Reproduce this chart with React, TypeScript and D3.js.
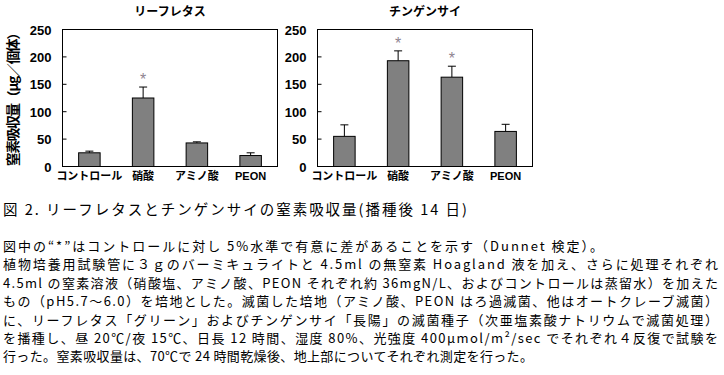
import React from 'react';
import * as d3 from 'd3';

// chart values
const categories = ['コントロール', '硝酸', 'アミノ酸', 'PEON'];
const lettuceMean = [25, 125, 43, 20];
const lettuceErr = [3, 20, 2, 5];
const lettuceSig = [false, true, false, false];
const bokchoyMean = [55, 193, 163, 64];
const bokchoyErr = [21, 18, 20, 13];
const bokchoySig = [false, true, true, false];
const yTicks = [0, 50, 100, 150, 200, 250];

const captionTitle = '図 2. リーフレタスとチンゲンサイの窒素吸収量(播種後 14 日)';
const noteLines = [
  '図中の“*”はコントロールに対し 5%水準で有意に差があることを示す（Dunnet 検定）。',
  '植物培養用試験管に３ｇのバーミキュライトと 4.5ml の無窒素 Hoagland 液を加え、さらに処理それぞれ',
  '4.5ml の窒素溶液（硝酸塩、アミノ酸、PEON それぞれ約 36mgN/L、およびコントロールは蒸留水）を加えた',
  'もの（pH5.7～6.0）を培地とした。滅菌した培地（アミノ酸、PEON はろ過滅菌、他はオートクレーブ滅菌）',
  'に、リーフレタス「グリーン」およびチンゲンサイ「長陽」の滅菌種子（次亜塩素酸ナトリウムで滅菌処理）',
  'を播種し、昼 20℃/夜 15℃、日長 12 時間、湿度 80%、光強度 400μmol/m²/sec でそれぞれ４反復で試験を',
  '行った。窒素吸収量は、70℃で 24 時間乾燥後、地上部についてそれぞれ測定を行った。',
];
const noteWidths = [600, 715, 715, 715, 715, 715, 530];

const SANS = '"Liberation Sans", Arial, "Noto Sans CJK JP", sans-serif';
const CJK = '"Noto Sans CJK JP", "Liberation Sans", sans-serif';

interface PanelProps {
  title: string;
  left: number;
  right: number;
  top: number;
  bottom: number;
  means: number[];
  errs: number[];
  sig: boolean[];
}

const Panel: React.FC<PanelProps> = ({ title, left, right, top, bottom, means, errs, sig }) => {
  const x = d3.scaleBand<string>().domain(categories).range([left, right]).paddingInner(0.6).paddingOuter(0.3);
  const y = d3.scaleLinear().domain([0, 250]).range([bottom, top]);
  const bw = x.bandwidth();

  return (
    <g>
      <text x={(left + right) / 2} y={16} textAnchor="middle" fontFamily={CJK} fontWeight="bold" fontSize={12}>
        {title}
      </text>
      {categories.map((c, i) => {
        const cx = (x(c) as number) + bw / 2;
        const errTop = y(means[i] + errs[i]);
        return (
          <g key={c}>
            <line x1={cx} x2={cx} y1={y(means[i])} y2={errTop} stroke="#000" strokeWidth={1} />
            <line x1={cx - 4} x2={cx + 4} y1={errTop} y2={errTop} stroke="#000" strokeWidth={1} />
            <rect x={x(c)} y={y(means[i])} width={bw} height={bottom - y(means[i])} fill="#808080" stroke="#000" strokeWidth={1} />
            {sig[i] && (
              <text x={cx} y={errTop - 2} textAnchor="middle" fontFamily={SANS} fontSize={16} fill="#8f8490">
                *
              </text>
            )}
            <text x={cx} y={180} textAnchor="middle" fontFamily={SANS} fontWeight="bold" fontSize={11}>
              {c}
            </text>
          </g>
        );
      })}
      <rect x={left} y={top} width={right - left} height={bottom - top} fill="none" stroke="#000" strokeWidth={1} />
      {yTicks.map(t => (
        <g key={t}>
          <line x1={left} x2={left + 4} y1={y(t)} y2={y(t)} stroke="#000" strokeWidth={1} />
          <text x={left - 11} y={y(t) + 5} textAnchor="end" fontFamily={SANS} fontWeight="bold" fontSize={13}>
            {t}
          </text>
        </g>
      ))}
    </g>
  );
};

const App: React.FC = () => {
  return (
    <svg width={724} height={375} viewBox="0 0 724 375" style={{ position: 'absolute', left: 0, top: 0, background: '#fff' }}>
      <rect width={724} height={375} fill="#fff" />
      <text
        transform="translate(18,96) rotate(-90)"
        textAnchor="middle"
        fontFamily={CJK}
        fontWeight="bold"
        fontSize={13.5}
        textLength={140}
        lengthAdjust="spacing"
      >
        窒素吸収量（μg／個体）
      </text>
      <Panel title="リーフレタス" left={62.5} right={277.5} top={29.5} bottom={166.5} means={lettuceMean} errs={lettuceErr} sig={lettuceSig} />
      <Panel title="チンゲンサイ" left={317.5} right={532.5} top={29.5} bottom={166.5} means={bokchoyMean} errs={bokchoyErr} sig={bokchoySig} />
      <text x={3} y={215} fontFamily={CJK} fontSize={14.5} textLength={464} lengthAdjust="spacing">
        {captionTitle}
      </text>
      {noteLines.map((line, i) => (
        <text key={i} x={3} y={251 + i * 18.4} fontFamily={CJK} fontSize={13} textLength={noteWidths[i]} lengthAdjust="spacing">
          {line}
        </text>
      ))}
    </svg>
  );
};

export default App;
